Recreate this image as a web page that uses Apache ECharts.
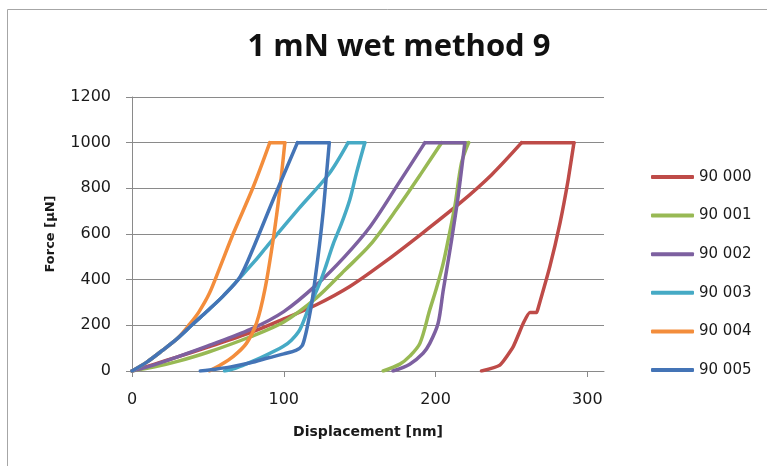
<!DOCTYPE html>
<html>
<head>
<meta charset="utf-8">
<script src="https://cdn.jsdelivr.net/npm/echarts@6/dist/echarts.min.js"></script>
<style>
html,body{margin:0;padding:0;background:#fff;}
#chart{width:767px;height:466px;}
</style>
</head>
<body>
<div id="chart"></div>
<script>
// ---- Data ----
const titleText = '1 mN wet method 9';
const xAxisTitle = 'Displacement [nm]';
const yAxisTitle = 'Force [µN]';
const xTicks = [0, 100, 200, 300];
const yTicks = [0, 200, 400, 600, 800, 1000, 1200];
const seriesNames = ['90 000', '90 001', '90 002', '90 003', '90 004', '90 005'];

// loading branches: [displacement nm, force µN]
const load000 = [[0,0],[15,30],[30,62],[50,105],[78,168],[100,228],[121.5,290],[143.5,370],[165,470],[190.8,601],[216,735],[237,860],[256.7,1000]];
const load001 = [[0,0],[15,18],[30,42],[50,82],[78,150],[100,215],[121.5,320],[140,440],[157,553],[175,715],[190,860],[204,1000]];
const load002 = [[0,0],[15,28],[30,62],[50,110],[78,182],[100,260],[121.5,377],[140,500],[157,633],[175,815],[193,1000]];
const load003 = [[0,0],[10,40],[20,90],[30,143],[40,205],[50,265],[60,328],[71,408],[81,482],[90,555],[110,712],[130,865],[142.4,1000]];
const load004 = [[0,0],[10,40],[20,90],[30,143],[38,205],[44,258],[51,340],[58,455],[66.6,600],[80,808],[90.8,1000]];
const load005 = [[0,0],[10,40],[20,90],[30,143],[40,205],[50,265],[60,328],[71,410],[80,540],[93,750],[109,1000]];

// unloading branches (start at the end of the hold at 1000 µN)
const unload000 = [[291.2,1000],[287.4,838],[282,648],[275.3,457],[267.6,275],[266.6,256],[262.2,256],[257.8,209],[251.2,107],[242.4,26],[230.3,0]];
const unload001 = [[221.8,1000],[217.1,911],[212.7,721],[208.5,580],[205,470],[200.5,360],[196.2,268],[189.7,121],[183,65],[176.5,30],[165.5,0]];
const unload002 = [[219.3,1000],[214.9,765],[210.6,575],[208,470],[205,350],[201.7,209],[196.2,121],[191.8,78],[183,30],[172,0]];
const unload003 = [[153.4,1000],[148,870],[143.5,750],[138,645],[132.5,555],[128,465],[123.7,385],[116,268],[110.5,180],[105,135],[99.5,107],[86.4,63],[75,30],[68,12],[61,0]];
const unload004 = [[100.7,1000],[97.4,794],[93,575],[87.5,355],[82,209],[75.4,121],[66.6,63],[58,25],[51,0]];
const unload005 = [[130,1000],[128,850],[126,700],[123.5,550],[121,420],[118.5,300],[116,210],[114,150],[112,110],[108,90],[100,75],[90,58],[78,36],[65,18],[55,8],[45,0]];

const loads = [load000, load001, load002, load003, load004, load005];
const unloads = [unload000, unload001, unload002, unload003, unload004, unload005];
const colors = ['#BE4B48', '#98B954', '#7D60A0', '#46AAC5', '#F38D3C', '#4474B6'];

// ---- Build series ----
const series = [];
seriesNames.forEach((name, i) => {
  const common = {
    name: name,
    type: 'line',
    showSymbol: false,
    symbol: 'none',
    animation: false,
    color: colors[i],
    lineStyle: {color: colors[i], width: 3.5, cap: 'round', join: 'round'},
    itemStyle: {color: colors[i]},
    z: 2 + i
  };
  const ld = loads[i], ul = unloads[i];
  series.push(Object.assign({}, common, {data: ld, smooth: 0.3}));
  series.push(Object.assign({}, common, {data: [ld[ld.length - 1], ul[0]]}));
  series.push(Object.assign({}, common, {data: ul, smooth: i === 0 ? 0.15 : 0.3}));
});

const gray = '#8A8A8A';
const chart = echarts.init(document.getElementById('chart'), null, {renderer: 'canvas'});
chart.setOption({
  backgroundColor: '#fff',
  animation: false,
  title: {
    text: titleText,
    left: 394, top: 27, textAlign: 'center',
    textStyle: {fontFamily: 'Open Sans', fontWeight: 'bold', fontSize: 31, color: '#111'}
  },
  graphic: [{
    type: 'rect', position: [7.5, 9.5], z: -1,
    shape: {x: 0, y: 0, width: 1000, height: 1000},
    style: {fill: 'none', stroke: '#A6A6A6', lineWidth: 1}
  }],
  legend: {
    orient: 'vertical', left: 651, top: 168, padding: 0,
    data: seriesNames,
    icon: 'roundRect',
    itemWidth: 43, itemHeight: 4, itemGap: 20.6,
    textStyle: {fontFamily: 'DejaVu Sans', fontSize: 15, lineHeight: 18, color: '#1a1a1a'}
  },
  grid: {left: 132, top: 97, width: 472, height: 274, containLabel: false},
  xAxis: {
    type: 'value', min: 0, max: 311, interval: 100,
    name: xAxisTitle, nameLocation: 'middle', nameGap: 54,
    nameTextStyle: {fontFamily: 'DejaVu Sans', fontWeight: 'bold', fontSize: 14, color: '#1a1a1a'},
    axisLine: {show: true, lineStyle: {color: gray, width: 1}},
    axisTick: {show: true, length: 6, customValues: xTicks, lineStyle: {color: gray}},
    axisLabel: {customValues: xTicks, margin: 21, fontFamily: 'DejaVu Sans', fontSize: 16, color: '#1a1a1a'},
    splitLine: {show: false}
  },
  yAxis: {
    type: 'value', min: 0, max: 1200, interval: 200,
    name: yAxisTitle, nameLocation: 'middle', nameGap: 75,
    nameTextStyle: {fontFamily: 'DejaVu Sans', fontWeight: 'bold', fontSize: 13, color: '#1a1a1a'},
    axisLine: {show: true, lineStyle: {color: gray, width: 1}},
    axisTick: {show: true, inside: false, length: 6, lineStyle: {color: gray}},
    axisLabel: {margin: 21, fontFamily: 'DejaVu Sans', fontSize: 16, color: '#1a1a1a',
      formatter: v => (yTicks.indexOf(v) >= 0 ? String(v) : '')},
    splitLine: {show: true, lineStyle: {color: gray, width: 1}}
  },
  series: series
});
</script>
</body>
</html>
